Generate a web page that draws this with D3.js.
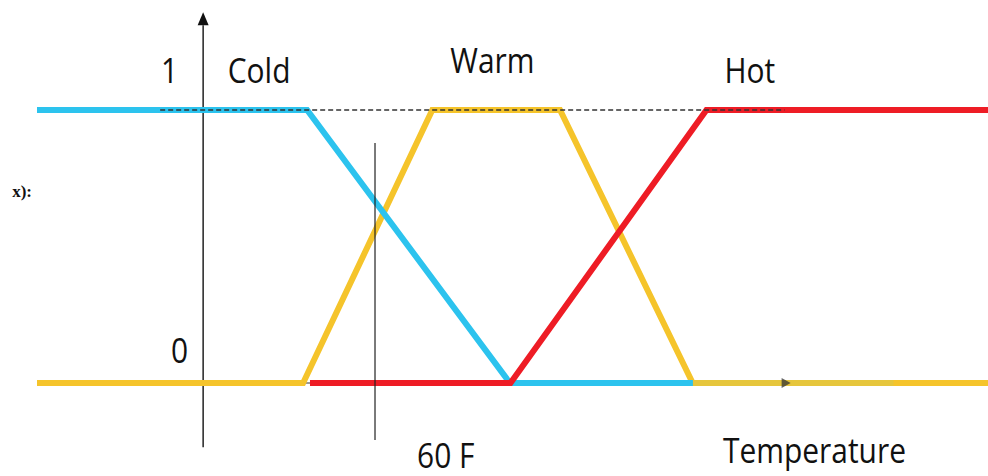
<!DOCTYPE html>
<html>
<head>
<meta charset="utf-8">
<script src="https://d3js.org/d3.v7.min.js"></script>
<style>
  body { margin: 0; background: #fff; }
  .lbl { font-family: 'Open Sans', sans-serif; font-size: 34px; fill: #111; }
  .mu { font-family: 'Liberation Serif', serif; font-size: 17px; font-weight: bold; fill: #111; }
</style>
</head>
<body>
<script>

// membership functions, temperature (F) -> degree of membership
var cold = [[-58, 1], [36.3, 1], [107.1, 0], [171, 0]];
var warm = [[-58, 0], [34.9, 0], [80, 1], [124.6, 1], [170.9, 0], [274, 0]];
var hot  = [[37.3, 0], [107.3, 0], [175.7, 1], [274, 1]];

var labels = [
  { text: "1", t: -14.7, m: 1.1 },
  { text: "Cold", t: 8.6, m: 1.1 },
  { text: "Warm", t: 86.3, m: 1.135 },
  { text: "Hot", t: 182, m: 1.1 },
  { text: "0", t: -11.2, m: 0.073 },
  { text: "60 F", t: 74.7, m: -0.311 },
  { text: "Temperature", t: 181.5, m: -0.292 }
];

var xMarker = 60;          // vertical guide at 60 F
var yAxisExtent = [-0.235, 1.31];
var guideExtent = [-0.209, 0.879];
var dashExtent = [-15, 203];

var width = 988, height = 476;

var x = d3.scaleLinear().domain([-58, 274]).range([37, 988]);
var y = d3.scaleLinear().domain([0, 1]).range([383, 110]);

var svg = d3.select("body").append("svg")
  .attr("width", width)
  .attr("height", height);

var line = d3.line()
  .x(function(d) { return x(d[0]); })
  .y(function(d) { return y(d[1]); });

//x axis, mostly hidden under the curves
svg.append("line")
  .attr("x1", x(-58)).attr("x2", x(203))
  .attr("y1", y(0)).attr("y2", y(0))
  .style("stroke", "#333").style("stroke-width", 1.2);

//y axis with arrow
svg.append("line")
  .attr("x1", x(0)).attr("x2", x(0))
  .attr("y1", y(yAxisExtent[0])).attr("y2", y(yAxisExtent[1]))
  .style("stroke", "#222").style("stroke-width", 1.5);

svg.append("path")
  .attr("d", "M" + x(0) + "," + (y(yAxisExtent[1]) - 13) +
             " L" + (x(0) + 5.5) + "," + y(yAxisExtent[1]) +
             " L" + (x(0) - 5.5) + "," + y(yAxisExtent[1]) + "Z")
  .style("fill", "#111");

//the three sets
var series = [
  { data: warm, color: "#f5c42b" },
  { data: cold, color: "#2cc3ee" },
  { data: hot, color: "#ee1c25" }
];

svg.selectAll(".set")
  .data(series)
  .enter().append("path")
  .attr("class", "set")
  .attr("d", function(d) { return line(d.data); })
  .style("fill", "none")
  .style("stroke", function(d) { return d.color; })
  .style("stroke-width", 6)
  .style("stroke-linejoin", "miter");

//darker stretch of the warm tail where the axis shows through
svg.append("line")
  .attr("x1", x(171)).attr("x2", x(241))
  .attr("y1", y(0)).attr("y2", y(0))
  .style("stroke", "#e6c63c").style("stroke-width", 6);

svg.append("path")
  .attr("d", "M" + (x(203) + 6) + "," + y(0) +
             " L" + (x(203) - 3) + "," + (y(0) - 5) +
             " L" + (x(203) - 3) + "," + (y(0) + 5) + "Z")
  .style("fill", "#333").style("opacity", 0.75);

//dashed line at membership 1
svg.append("line")
  .attr("x1", x(dashExtent[0])).attr("x2", x(dashExtent[1]))
  .attr("y1", y(1)).attr("y2", y(1))
  .style("stroke", "#333")
  .style("stroke-width", 1.3)
  .style("stroke-dasharray", "5,3");

//guide at 60 F
svg.append("line")
  .attr("x1", x(xMarker)).attr("x2", x(xMarker))
  .attr("y1", y(guideExtent[0])).attr("y2", y(guideExtent[1]))
  .style("stroke", "#222").style("stroke-width", 1.2);

//labels
svg.selectAll(".lblg")
  .data(labels)
  .enter().append("g")
  .attr("class", "lblg")
  .attr("transform", function(d) { return "translate(" + x(d.t) + "," + y(d.m) + ") scale(0.88,1)"; })
  .append("text")
  .attr("class", "lbl")
  .text(function(d) { return d.text; });

//left-edge fragment of the membership label
svg.append("text")
  .attr("class", "mu")
  .attr("x", 32).attr("y", 197)
  .attr("text-anchor", "end")
  .text("x):");

</script>
</body>
</html>
